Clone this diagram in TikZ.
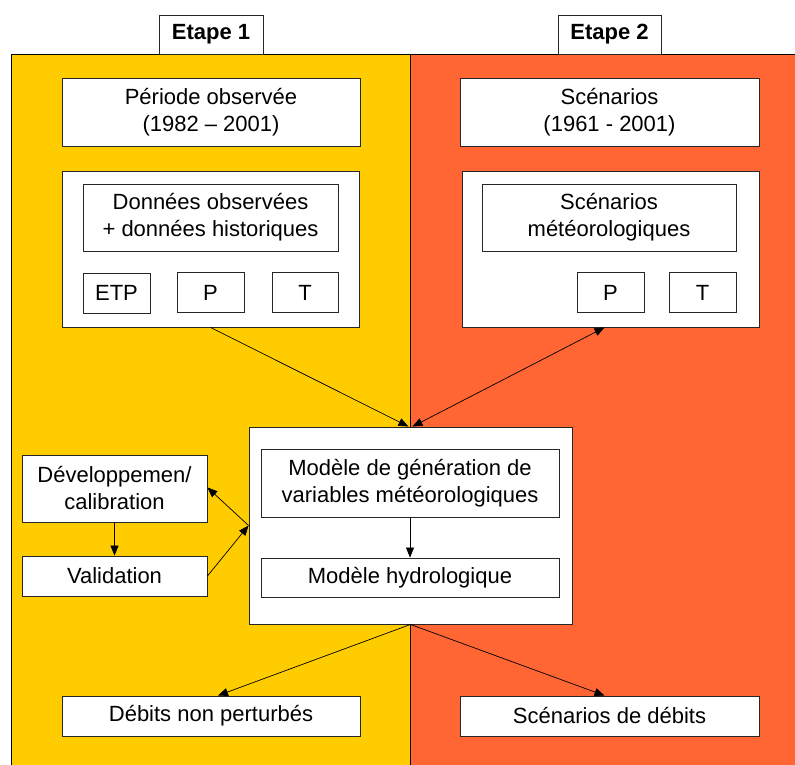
\documentclass[tikz,border=0pt]{standalone}
\usepackage{fontspec}
\setmainfont{Liberation Sans}
\usetikzlibrary{arrows.meta}
\definecolor{etapeyellow}{HTML}{FFCC00}
\definecolor{etapered}{HTML}{FF6633}
\begin{document}
\begin{tikzpicture}[x=1pt,y=-1pt,
  box/.style={draw=black!85,line width=0.9pt,fill=white,align=center,inner sep=0pt,
    font=\fontsize{22}{27}\selectfont},
  fleche/.style={line width=0.7pt,-{Triangle[length=10pt,width=8pt]}},
  doublefleche/.style={line width=0.7pt,{Triangle[length=10pt,width=8pt]}-{Triangle[length=10pt,width=8pt]}}]
\useasboundingbox (0,0) rectangle (795,765);

\fill[etapeyellow] (11,54) rectangle (410,765);
\fill[etapered] (410,54) rectangle (795,765);
\draw[line width=0.9pt] (11,765) -- (11,54) -- (795,54);
\draw[line width=0.9pt] (410,54) -- (410,765);

\node[box,minimum width=104,minimum height=39,font=\fontsize{22}{27}\selectfont\bfseries] (etape1) at (211,34.5) {Etape 1};
\node[box,minimum width=103,minimum height=39,font=\fontsize{22}{27}\selectfont\bfseries] (etape2) at (609.5,34.5) {Etape 2};

\node[box,minimum width=298,minimum height=68] (periode) at (211,112) {Période observée\\(1982 -- 2001)};
\node[box,minimum width=299,minimum height=68] (scenarios) at (609.5,112) {Scénarios\\(1961 - 2001)};

\node[box,minimum width=297,minimum height=156] (obs) at (210.5,249) {};
\node[box,minimum width=255,minimum height=67] (donnees) at (210.5,217.5) {Données observées\\+ données historiques};
\node[box,minimum width=67,minimum height=40] (etp) at (116.5,293) {ETP};
\node[box,minimum width=67,minimum height=40] (pobs) at (210.5,292.5) {P};
\node[box,minimum width=66,minimum height=40] (tobs) at (305,292.5) {T};

\node[box,minimum width=297,minimum height=156] (scen) at (610.5,249) {};
\node[box,minimum width=254,minimum height=67] (meteo) at (609,217.5) {Scénarios\\météorologiques};
\node[box,minimum width=67,minimum height=40] (pscen) at (610.5,292.5) {P};
\node[box,minimum width=67,minimum height=40] (tscen) at (702.5,292.5) {T};

\node[box,minimum width=323,minimum height=197] (modele) at (410.5,525.5) {};
\node[box,minimum width=298,minimum height=68] (generation) at (410,483) {Modèle de génération de\\variables météorologiques};
\node[box,minimum width=298,minimum height=39] (hydro) at (410,577.5) {Modèle hydrologique};

\node[box,minimum width=185,minimum height=67] (dev) at (114.5,488.5) {Développemen/\\calibration};
\node[box,minimum width=185,minimum height=40] (valid) at (114.5,576) {Validation};

\node[box,minimum width=298,minimum height=40] (debits) at (211,716) {Débits non perturbés};
\node[box,minimum width=299,minimum height=40] (scendebits) at (609.5,716) {Scénarios de débits};

\draw[fleche] (obs.south) -- ([xshift=-2pt]modele.north);
\draw[doublefleche] ([xshift=-6pt]scen.south) -- ([xshift=2pt]modele.north);
\draw[fleche] (generation.south) -- (hydro.north);
\draw[fleche] (dev.south) -- (valid.north);
\draw[fleche] (modele.west) -- ([yshift=1pt]dev.east);
\draw[fleche] (valid.east) -- (modele.west);
\draw[fleche] (modele.south) -- ([xshift=7pt]debits.north);
\draw[fleche] (modele.south) -- ([xshift=-5pt]scendebits.north);
\end{tikzpicture}
\end{document}
